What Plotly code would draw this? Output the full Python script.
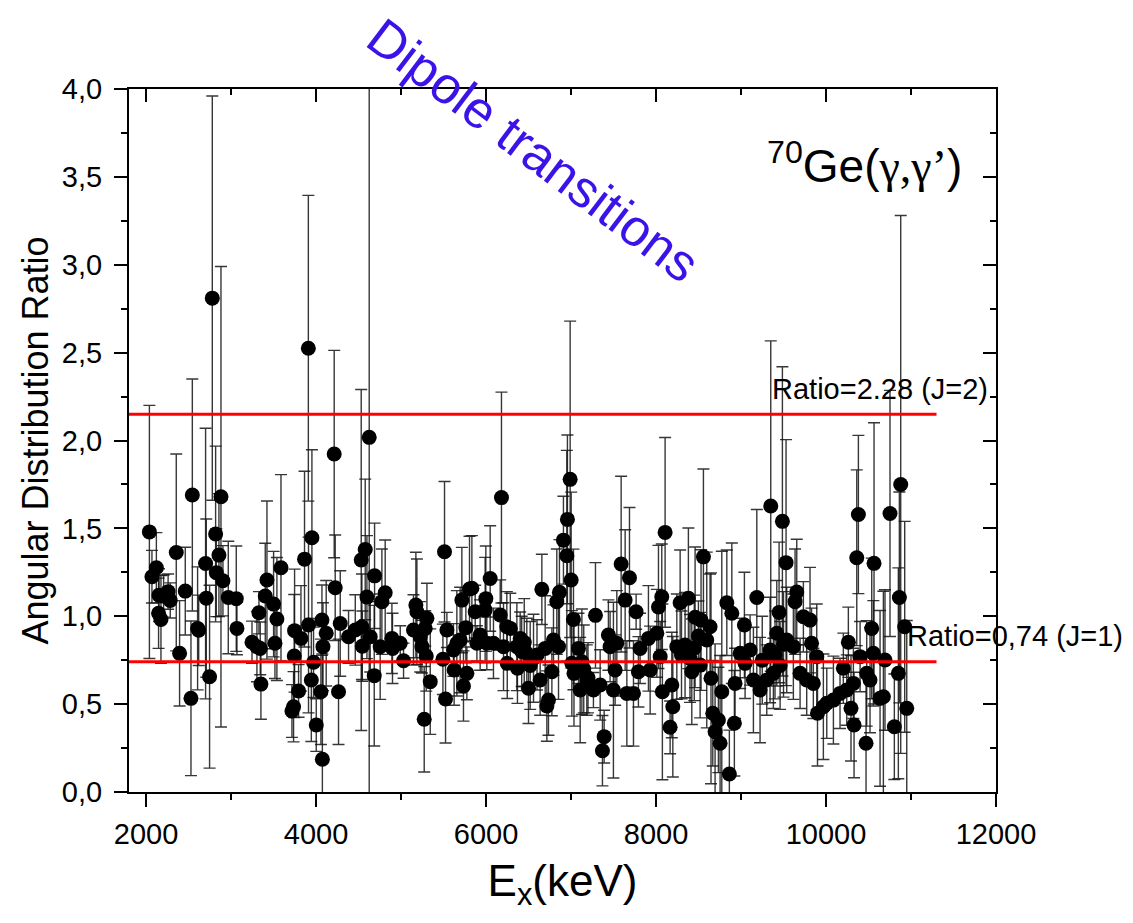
import plotly.graph_objects as go

# ---- data ----
ex_kev = [
    2040, 2070, 2122, 2148, 2153, 2176, 2207, 2260, 2285, 2356, 2395, 2462, 2529, 2545, 2607, 2620,
    2701, 2709, 2748, 2780, 2819, 2827, 2858, 2882, 2905, 2968, 3062, 3070, 3247, 3305, 3329, 3344,
    3352, 3403, 3423, 3501, 3517, 3540, 3588, 3717, 3736, 3744, 3748, 3795, 3823, 3865, 3910, 3912,
    3952, 3945, 3971, 4003, 4058, 4070, 4082, 4075, 4120, 4214, 4226, 4265, 4285, 4383, 4462, 4532,
    4540, 4545, 4579, 4599, 4626, 4638, 4685, 4689, 4755, 4775, 4814, 4893, 4900, 4991, 5030, 5147,
    5175, 5187, 5226, 5246, 5273, 5285, 5297, 5305, 5344, 5493, 5512, 5524, 5540, 5617, 5625, 5657,
    5696, 5716, 5735, 5763, 5775, 5806, 5834, 5873, 5893, 5931, 5990, 5998, 6010, 6049, 6088, 6167,
    6182, 6206, 6245, 6250, 6286, 6363, 6370, 6402, 6420, 6450, 6480, 6500, 6520, 6559, 6600, 6637,
    6657, 6696, 6716, 6735, 6775, 6794, 6833, 6853, 6864, 6911, 6951, 6958, 6990, 7002, 7010, 7029,
    7035, 7088, 7108, 7128, 7150, 7186, 7200, 7264, 7288, 7343, 7370, 7390, 7440, 7460, 7499, 7519,
    7539, 7590, 7637, 7657, 7688, 7735, 7766, 7793, 7813, 7911, 7931, 8010, 8029, 8049, 8068, 8075,
    8107, 8166, 8186, 8198, 8245, 8284, 8300, 8342, 8381, 8400, 8421, 8450, 8460, 8499, 8519, 8530,
    8558, 8597, 8636, 8647, 8668, 8695, 8734, 8754, 8774, 8833, 8863, 8892, 8922, 8930, 8990, 9040,
    9048, 9107, 9146, 9186, 9224, 9250, 9303, 9342, 9350, 9381, 9400, 9421, 9448, 9460, 9487, 9500,
    9530, 9538, 9616, 9636, 9656, 9695, 9734, 9773, 9812, 9830, 9851, 9891, 9900, 9969, 10009, 10087,
    10165, 10204, 10244, 10263, 10294, 10322, 10330, 10362, 10381, 10401, 10471, 10479, 10518, 10538,
    10557, 10565, 10636, 10675, 10694, 10753, 10804, 10851, 10863, 10879, 10926, 10950,
]
ratio = [
    1.48, 1.225, 1.276, 1.017, 1.12, 0.982, 1.115, 1.14, 1.09, 1.363, 0.789, 1.143, 0.533, 1.69, 0.931, 0.92,
    1.30, 1.103, 0.656, 2.81, 1.468, 1.248, 1.348, 1.68, 1.202, 1.107, 1.10, 0.931, 0.852, 0.827, 1.02, 0.817,
    0.614, 1.115, 1.206, 1.069, 0.846, 0.984, 1.276, 0.461, 0.485, 0.774, 0.918, 0.575, 0.874, 1.325, 2.525, 0.95,
    1.447, 0.637, 0.738, 0.381, 0.57, 0.978, 0.827, 0.186, 0.903, 1.923, 1.162, 0.57, 0.959, 0.883, 0.922, 1.32,
    0.94, 0.83, 1.38, 1.109, 2.018, 0.883, 0.662, 1.23, 0.827, 1.083, 1.134, 0.874, 0.817, 0.846, 0.747, 0.922,
    1.064, 1.026, 0.883, 0.827, 0.414, 0.931, 0.774, 0.988, 0.628, 0.755, 1.367, 0.529, 0.922, 0.808, 0.694, 0.846,
    0.865, 1.092, 0.603, 0.935, 0.675, 1.155, 1.159, 1.026, 0.846, 0.893, 1.035, 1.10, 0.846, 1.215, 0.846, 1.007,
    1.675, 0.827, 0.94, 0.732, 0.931, 0.827, 0.704, 0.874, 0.80, 0.85, 0.789, 0.59, 0.72, 0.761, 0.78, 0.637,
    1.153, 0.817, 0.489, 0.523, 0.684, 0.865, 1.083, 0.827, 1.136, 1.433, 1.344, 1.551, 1.779, 1.206, 0.732, 0.982,
    0.675, 0.817, 0.58, 0.741, 0.70, 0.637, 0.65, 0.58, 1.005, 0.609, 0.235, 0.315, 0.893, 0.827, 0.58, 0.694,
    0.846, 1.297, 1.092, 0.561, 1.219, 0.561, 1.026, 0.684, 0.817, 0.874, 0.694, 0.903, 1.053, 0.77, 1.111, 0.57,
    1.477, 0.368, 0.609, 0.485, 0.827, 1.077, 0.78, 0.836, 1.102, 0.76, 0.684, 0.82, 0.994, 0.887, 0.722, 0.978,
    1.338, 0.865, 0.94, 0.647, 0.448, 0.343, 0.41, 0.277, 0.57, 1.077, 0.102, 1.017, 0.391, 0.618, 0.789, 0.95,
    0.732, 0.808, 0.637, 1.107, 0.58, 0.75, 0.637, 0.808, 1.627, 0.675, 0.78, 0.903, 1.022, 0.72, 1.54, 0.84,
    1.305, 0.865, 0.827, 1.083, 1.138, 0.675, 0.997, 0.637, 0.978, 0.846, 0.618, 0.77, 0.448, 0.485, 0.505, 0.523,
    0.561, 0.704, 0.58, 0.852, 0.476, 0.618, 0.381, 1.333, 1.579, 0.77, 0.277, 0.675, 0.637, 0.931,
    0.789, 1.301, 0.533, 0.542, 0.751, 1.585, 0.371, 0.675, 1.107, 1.75, 0.94, 0.476,
]
ratio_err = [
    0.72, 0.15, 0.20, 0.20, 0.15, 0.25, 0.12, 0.10, 0.10, 0.56, 0.30, 0.25, 0.44, 0.66, 0.35, 0.20,
    0.77, 0.45, 0.52, 1.15, 0.50, 0.25, 0.35, 1.31, 0.20, 0.32, 0.30, 0.15, 0.12, 0.20, 0.12, 0.15,
    0.20, 0.30, 0.45, 0.30, 0.20, 0.35, 0.53, 0.15, 0.20, 0.35, 0.35, 0.15, 0.30, 0.50, 0.87, 0.50,
    0.50, 0.35, 0.20, 0.15, 0.30, 0.20, 0.25, 0.60, 0.30, 0.59, 0.30, 0.30, 0.30, 0.15, 0.20, 0.97,
    0.30, 0.20, 0.40, 0.35, 2.30, 0.20, 0.40, 0.30, 0.30, 0.30, 0.30, 0.20, 0.20, 0.10, 0.10, 0.20,
    0.30, 0.30, 0.20, 0.15, 0.30, 0.10, 0.20, 0.20, 0.30, 0.20, 0.40, 0.25, 0.10, 0.15, 0.20, 0.30,
    0.30, 0.30, 0.20, 0.20, 0.15, 0.30, 0.30, 0.15, 0.10, 0.20, 0.30, 0.30, 0.15, 0.30, 0.20, 0.20,
    0.60, 0.25, 0.20, 0.20, 0.20, 0.25, 0.20, 0.15, 0.20, 0.25, 0.20, 0.20, 0.25, 0.25, 0.20, 0.20,
    0.20, 0.30, 0.20, 0.20, 0.25, 0.20, 0.30, 0.30, 0.30, 0.25, 0.60, 0.48, 0.90, 0.50, 0.30, 0.40,
    0.30, 0.20, 0.30, 0.30, 0.25, 0.20, 0.20, 0.10, 0.30, 0.20, 0.20, 0.15, 0.20, 0.20, 0.50, 0.20,
    0.30, 0.50, 0.40, 0.30, 0.40, 0.30, 0.10, 0.20, 0.20, 0.30, 0.25, 0.25, 0.35, 0.20, 0.30, 0.50,
    0.54, 0.15, 0.30, 0.40, 0.30, 0.30, 0.25, 0.30, 0.40, 0.25, 0.30, 0.30, 0.40, 0.20, 0.30, 0.40,
    0.50, 0.50, 0.30, 0.60, 0.30, 0.50, 0.30, 0.50, 0.80, 0.30, 0.25, 0.40, 0.30, 0.20, 0.20, 0.30,
    0.20, 0.20, 0.30, 0.50, 0.30, 0.25, 0.20, 0.30, 0.94, 0.20, 0.25, 0.30, 0.40, 0.25, 0.88, 0.30,
    0.70, 0.30, 0.30, 0.30, 0.30, 0.20, 0.20, 0.20, 0.30, 0.20, 0.20, 0.30, 0.30, 0.30, 0.20, 0.25,
    0.20, 0.20, 0.20, 0.20, 0.30, 0.20, 0.30, 0.50, 0.45, 0.20, 0.40, 0.30, 0.30, 0.40,
    0.30, 0.80, 0.50, 0.60, 0.40, 0.70, 0.30, 0.60, 0.60, 1.53, 0.60, 0.50,
]

ratio_levels = [2.15, 0.741]          # red reference lines
level_span = [1800, 11300]             # x extent of the reference lines
level_labels = ["Ratio=2.28 (J=2)", "Ratio=0,74 (J=1)"]

x_range = [1800, 12000]
y_range = [0, 4.0]
x_tickvals = [2000, 4000, 6000, 8000, 10000, 12000]
y_tickvals = [0.0, 0.5, 1.0, 1.5, 2.0, 2.5, 3.0, 3.5, 4.0]
y_ticktext = ["0,0", "0,5", "1,0", "1,5", "2,0", "2,5", "3,0", "3,5", "4,0"]

FONT = "Arial, 'Liberation Sans', sans-serif"

fig = go.Figure()

fig.add_trace(go.Scatter(
    x=ex_kev, y=ratio, mode="markers",
    marker=dict(color="black", size=15, line=dict(width=0)),
    error_y=dict(type="data", array=ratio_err, visible=True,
                 color="rgba(20,20,20,0.85)", thickness=1.4, width=6),
    showlegend=False, hoverinfo="x+y",
))

for lvl in ratio_levels:
    fig.add_trace(go.Scatter(
        x=level_span, y=[lvl, lvl], mode="lines",
        line=dict(color="#ff0000", width=3), showlegend=False, hoverinfo="skip",
    ))

# dummy trace so the mirrored (inside-tick) axes are drawn
fig.add_trace(go.Scatter(x=[], y=[], xaxis="x2", yaxis="y2", showlegend=False, hoverinfo="skip"))

axis_common = dict(showgrid=False, zeroline=False, tickcolor="black", tickwidth=2, ticklen=13)

fig.update_layout(
    width=1133, height=923,
    margin=dict(l=129, r=137, t=89, b=131),
    paper_bgcolor="white", plot_bgcolor="white",
    font=dict(family=FONT, color="black"),
    xaxis=dict(
        range=x_range, tickvals=x_tickvals, tickformat="d", ticks="outside",
        showline=True, linecolor="black", linewidth=2, mirror=True,
        tickfont=dict(size=29, family=FONT), ticklabelstandoff=2,
        minor=dict(ticks="outside", ticklen=6, tickwidth=2, tickcolor="black", dtick=1000, tick0=1000),
        title=dict(text="E<sub>x</sub>(keV)", font=dict(size=44, family=FONT), standoff=16),
        **axis_common,
    ),
    yaxis=dict(
        range=y_range, tickvals=y_tickvals, ticktext=y_ticktext, ticks="outside",
        showline=True, linecolor="black", linewidth=2, mirror=True,
        tickfont=dict(size=29, family=FONT), ticklabelstandoff=6,
        minor=dict(ticks="outside", ticklen=6, tickwidth=2, tickcolor="black", dtick=0.25, tick0=0),
        title=dict(text="Angular Distribution Ratio", font=dict(size=36, family=FONT), standoff=2),
        **axis_common,
    ),
    xaxis2=dict(
        overlaying="x", side="top", anchor="y", range=x_range, tickvals=x_tickvals,
        ticks="inside", showticklabels=False, showline=False,
        minor=dict(ticks="inside", ticklen=6, tickwidth=2, tickcolor="black", dtick=1000, tick0=1000),
        **axis_common,
    ),
    yaxis2=dict(
        overlaying="y", side="right", anchor="x", range=y_range, tickvals=y_tickvals,
        ticks="inside", showticklabels=False, showline=False,
        minor=dict(ticks="inside", ticklen=6, tickwidth=2, tickcolor="black", dtick=0.25, tick0=0),
        **axis_common,
    ),
)

fig.add_annotation(x=9342, y=2.292, xref="x", yref="y", text=level_labels[0], showarrow=False,
                   xanchor="left", yanchor="middle", font=dict(size=29, family=FONT, color="black"))
fig.add_annotation(x=10930, y=0.887, xref="x", yref="y", text=level_labels[1], showarrow=False,
                   xanchor="left", yanchor="middle", font=dict(size=29, family=FONT, color="black"))
fig.add_annotation(x=9283, y=3.578, xref="x", yref="y",
                   text="<sup>70</sup>Ge(<span style=\"font-family:'Liberation Serif', 'DejaVu Serif', serif\">γ,γ’</span>)",
                   showarrow=False, xanchor="left", yanchor="middle",
                   font=dict(size=46, family=FONT, color="black"))
fig.add_annotation(x=6555, y=3.652, xref="x", yref="y", text="Dipole transitions", showarrow=False,
                   textangle=37, xanchor="center", yanchor="middle",
                   font=dict(size=52, family=FONT, color="#3b12e8"))

fig.write_html("out.html")
